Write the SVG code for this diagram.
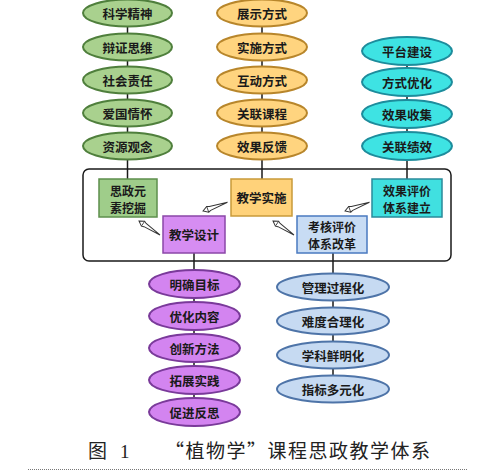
<svg xmlns="http://www.w3.org/2000/svg" width="489" height="471" viewBox="0 0 489 471">
<defs>
<style>
.t{font-family:"Noto Sans CJK SC","Noto Sans",sans-serif;font-size:12.5px;font-weight:bold;fill:#1a1a1a;text-anchor:middle;dominant-baseline:central}
.t2{font-size:12px}
.ln{stroke:#1a1a1a;stroke-width:1.5;fill:none}
.eg{fill:#a9d18e;stroke:#4f7f3c;stroke-width:2}
.eo{fill:#ffd47f;stroke:#b8862b;stroke-width:2}
.ec{fill:#3ee3e3;stroke:#1d8c9c;stroke-width:2}
.ep{fill:#d384f0;stroke:#7a3a9a;stroke-width:2}
.eb{fill:#c6daf2;stroke:#4e74a8;stroke-width:2}
.arr{fill:#fff;stroke:#333;stroke-width:1}
.cap{font-family:"Noto Sans CJK SC","Liberation Serif",serif;font-size:19px;fill:#222}
</style>
<g id="arrowshape"><polygon class="arr" points="0,0 5,-3 7.5,-2 26,0 7.5,2 5,3"/><line x1="5" y1="-3" x2="5" y2="3" stroke="#333" stroke-width="0.8"/></g>
</defs>
<rect width="489" height="471" fill="#fff"/>
<g id="connectors">
<line class="ln" x1="127.5" y1="13" x2="127.5" y2="179"/>
<line class="ln" x1="262" y1="13" x2="262" y2="179"/>
<line class="ln" x1="407" y1="50" x2="407" y2="179"/>
<line class="ln" x1="194" y1="253" x2="194" y2="411"/>
<line class="ln" x1="333" y1="253" x2="333" y2="389"/>
<use href="#arrowshape" transform="translate(139,221) rotate(33.7) scale(0.97)"/>
<use href="#arrowshape" transform="translate(203,211) rotate(-19.8)"/>
<use href="#arrowshape" transform="translate(273,221) rotate(33.7) scale(0.97)"/>
<use href="#arrowshape" transform="translate(345,211) rotate(-19.8)"/>
</g>
<g id="frame"><rect x="83" y="169" width="368" height="92" rx="6" fill="none" stroke="#1a1a1a" stroke-width="1.5"/></g>
<g id="n-kxjs"><ellipse class="eg" cx="127.5" cy="13" rx="44.5" ry="13.5"/><text class="t" x="127.5" y="13">科学精神</text></g>
<g id="n-bzsw"><ellipse class="eg" cx="127.5" cy="47" rx="44.5" ry="13.5"/><text class="t" x="127.5" y="47">辩证思维</text></g>
<g id="n-shzr"><ellipse class="eg" cx="127.5" cy="80" rx="44.5" ry="13.5"/><text class="t" x="127.5" y="80">社会责任</text></g>
<g id="n-agqh"><ellipse class="eg" cx="127.5" cy="113" rx="44.5" ry="13.5"/><text class="t" x="127.5" y="113">爱国情怀</text></g>
<g id="n-zygn"><ellipse class="eg" cx="127.5" cy="146" rx="44.5" ry="13.5"/><text class="t" x="127.5" y="146">资源观念</text></g>
<g id="n-zsfs"><ellipse class="eo" cx="262" cy="13" rx="45" ry="13.5"/><text class="t" x="262" y="13">展示方式</text></g>
<g id="n-ssfs"><ellipse class="eo" cx="262" cy="47" rx="45" ry="13.5"/><text class="t" x="262" y="47">实施方式</text></g>
<g id="n-hdfs"><ellipse class="eo" cx="262" cy="80" rx="45" ry="13.5"/><text class="t" x="262" y="80">互动方式</text></g>
<g id="n-glkc"><ellipse class="eo" cx="262" cy="113" rx="45" ry="13.5"/><text class="t" x="262" y="113">关联课程</text></g>
<g id="n-xgfk"><ellipse class="eo" cx="262" cy="146" rx="45" ry="13.5"/><text class="t" x="262" y="146">效果反馈</text></g>
<g id="n-ptjs"><ellipse class="ec" cx="407" cy="51" rx="45" ry="14"/><text class="t" x="407" y="51">平台建设</text></g>
<g id="n-fsyh"><ellipse class="ec" cx="407" cy="82" rx="45" ry="14"/><text class="t" x="407" y="82">方式优化</text></g>
<g id="n-xgsj"><ellipse class="ec" cx="407" cy="114" rx="45" ry="14"/><text class="t" x="407" y="114">效果收集</text></g>
<g id="n-gljx"><ellipse class="ec" cx="407" cy="146" rx="45" ry="14"/><text class="t" x="407" y="146">关联绩效</text></g>
<g id="n-szys"><rect x="99" y="179" width="58" height="38" fill="#9fcd8a" stroke="#5d8f4c" stroke-width="1.5"/><text class="t t2"><tspan x="128" y="189.5">思政元</tspan><tspan x="128" y="206.5">素挖掘</tspan></text></g>
<g id="n-jxss"><rect x="231" y="179" width="61" height="37" fill="#ffd27a" stroke="#c99a3a" stroke-width="1.5"/><text class="t" x="261.5" y="197.5">教学实施</text></g>
<g id="n-xgpj"><rect x="372" y="179" width="70" height="38" fill="#40e0e0" stroke="#2a8a9a" stroke-width="1.5"/><text class="t t2"><tspan x="407" y="189.5">效果评价</tspan><tspan x="407" y="206.5">体系建立</tspan></text></g>
<g id="n-jxsj"><rect x="163" y="216" width="62" height="37" fill="#d68df2" stroke="#8b47a8" stroke-width="1.5"/><text class="t" x="194" y="234.5">教学设计</text></g>
<g id="n-khpj"><rect x="297" y="216" width="70" height="37" fill="#c8dcf4" stroke="#4a7ac0" stroke-width="1.5"/><text class="t t2"><tspan x="332" y="226">考核评价</tspan><tspan x="332" y="243">体系改革</tspan></text></g>
<g id="n-mqmb"><ellipse class="ep" cx="194.5" cy="284" rx="45.5" ry="14"/><text class="t" x="194.5" y="284">明确目标</text></g>
<g id="n-yhnr"><ellipse class="ep" cx="194.5" cy="316" rx="45.5" ry="14"/><text class="t" x="194.5" y="316">优化内容</text></g>
<g id="n-cxff"><ellipse class="ep" cx="194.5" cy="348" rx="45.5" ry="14"/><text class="t" x="194.5" y="348">创新方法</text></g>
<g id="n-tzsj"><ellipse class="ep" cx="194.5" cy="380" rx="45.5" ry="14"/><text class="t" x="194.5" y="380">拓展实践</text></g>
<g id="n-cjfs"><ellipse class="ep" cx="194.5" cy="412" rx="45.5" ry="14"/><text class="t" x="194.5" y="412">促进反思</text></g>
<g id="n-glgc"><ellipse class="eb" cx="333" cy="287" rx="56" ry="13.5"/><text class="t" x="333" y="287">管理过程化</text></g>
<g id="n-ndhl"><ellipse class="eb" cx="333" cy="321" rx="56" ry="13.5"/><text class="t" x="333" y="321">难度合理化</text></g>
<g id="n-xkxm"><ellipse class="eb" cx="333" cy="355" rx="56" ry="13.5"/><text class="t" x="333" y="355">学科鲜明化</text></g>
<g id="n-zbdy"><ellipse class="eb" cx="333" cy="389" rx="56" ry="13.5"/><text class="t" x="333" y="389">指标多元化</text></g>
<g id="caption">
<text class="cap" x="88" y="458">图</text>
<text class="cap" x="120" y="458" style="font-family:'Liberation Serif',serif">1</text>
<text class="cap" x="165" y="458" textLength="265" lengthAdjust="spacing">“植物学”课程思政教学体系</text>
</g>
<line x1="28" y1="469.5" x2="467" y2="469.5" stroke="#777" stroke-width="1" stroke-dasharray="1,1"/>
</svg>
